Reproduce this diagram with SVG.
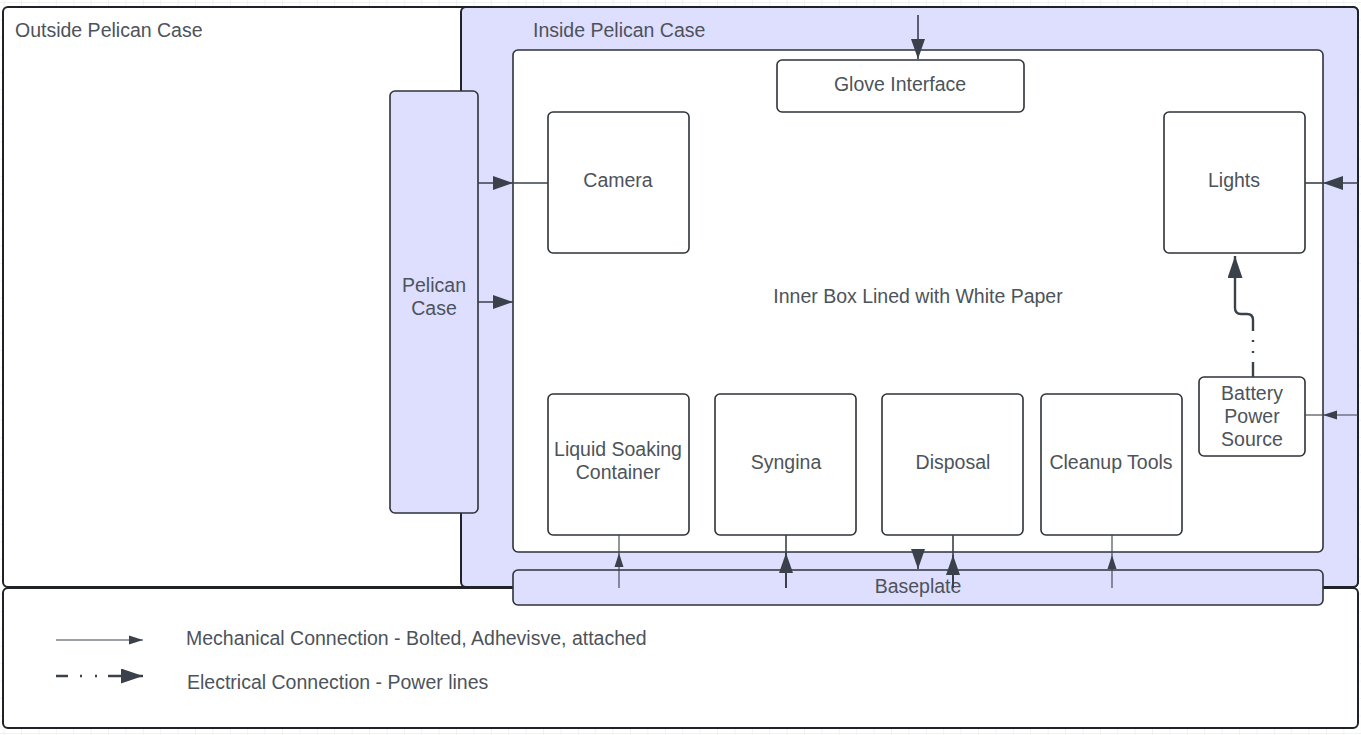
<svg xmlns="http://www.w3.org/2000/svg" width="1361" height="735" viewBox="0 0 1361 735">
<style>
text{font-family:"Liberation Sans",Arial,sans-serif;font-size:19.5px;fill:#4d535a}
.c{text-anchor:middle}
.outer{fill:#ffffff;stroke:#1f2328;stroke-width:2}
.box{fill:#ffffff;stroke:#2e3338;stroke-width:1.6}
.node{fill:#ffffff;stroke:#2e3338;stroke-width:1.6}
.lnode{fill:#dedeff;stroke:#2e3338;stroke-width:1.6}
.con{stroke:#3a414a;stroke-width:1.6;fill:none}
.thin{stroke:#3a414a;stroke-width:1.1;fill:none}
.thick{stroke:#3a414a;stroke-width:2.4;fill:none}
</style>
<defs>
<pattern id="grid" x="4.6" y="3" width="17.4" height="17.4" patternUnits="userSpaceOnUse">
<path d="M17.4 0V17.4M0 17.4H17.4" fill="none" stroke="#e6e6e6" stroke-width="1"/>
</pattern>
<marker id="hL" markerUnits="userSpaceOnUse" markerWidth="20" markerHeight="14" refX="20" refY="7" orient="auto">
<path d="M0 0L20 7L0 14z" fill="#3a414a"/>
</marker>
<marker id="hS" markerUnits="userSpaceOnUse" markerWidth="14" markerHeight="10" refX="14" refY="5" orient="auto">
<path d="M0 0.5L14 5L0 9.5z" fill="#3a414a"/>
</marker>
<marker id="hX" markerUnits="userSpaceOnUse" markerWidth="22" markerHeight="15" refX="22" refY="7.5" orient="auto">
<path d="M0 0L22 7.5L0 15z" fill="#3a414a"/>
</marker>
</defs>
<rect width="1361" height="735" fill="#ffffff"/>
<rect width="1361" height="735" fill="url(#grid)"/>

<g id="outside-case">
<rect class="outer" x="3" y="7" width="1355" height="580" rx="5"/>
<text x="15" y="37">Outside Pelican Case</text>
</g>
<g id="inside-case">
<rect class="outer" x="461" y="7" width="897" height="580" rx="5" style="fill:#dedeff"/>
<text x="533" y="37">Inside Pelican Case</text>
</g>
<g id="legend">
<rect class="outer" x="3" y="588" width="1355" height="140" rx="5"/>
<text x="186" y="645">Mechanical Connection - Bolted, Adhevisve, attached</text>
<text x="187" y="689">Electrical Connection - Power lines</text>
</g>
<g id="inner-box">
<rect class="box" x="513" y="50" width="810" height="502" rx="5"/>
<text class="c" x="918" y="303">Inner Box Lined with White Paper</text>
</g>
<g id="baseplate">
<rect class="lnode" x="513" y="570" width="810" height="35" rx="5"/>
<text class="c" x="918" y="593">Baseplate</text>
</g>
<g id="pelican-case">
<rect class="lnode" x="390" y="91" width="88" height="422" rx="5"/>
<text class="c" x="434" y="292">Pelican</text>
<text class="c" x="434" y="315">Case</text>
</g>
<g id="glove-interface">
<rect class="node" x="777" y="60" width="247" height="52" rx="5"/>
<text class="c" x="900" y="91">Glove Interface</text>
</g>
<g id="camera">
<rect class="node" x="548" y="112" width="141" height="141" rx="5"/>
<text class="c" x="618" y="187">Camera</text>
</g>
<g id="lights">
<rect class="node" x="1164" y="112" width="141" height="141" rx="5"/>
<text class="c" x="1234" y="187">Lights</text>
</g>
<g id="liquid-soaking-container">
<rect class="node" x="548" y="394" width="141" height="141" rx="5"/>
<text class="c" x="618" y="456">Liquid Soaking</text>
<text class="c" x="618" y="479">Container</text>
</g>
<g id="syngina">
<rect class="node" x="715" y="394" width="141" height="141" rx="5"/>
<text class="c" x="786" y="469">Syngina</text>
</g>
<g id="disposal">
<rect class="node" x="882" y="394" width="141" height="141" rx="5"/>
<text class="c" x="953" y="469">Disposal</text>
</g>
<g id="cleanup-tools">
<rect class="node" x="1041" y="394" width="141" height="141" rx="5"/>
<text class="c" x="1111" y="469">Cleanup Tools</text>
</g>
<g id="battery-power-source">
<rect class="node" x="1199" y="377" width="106" height="79" rx="5"/>
<text class="c" x="1252" y="400">Battery</text>
<text class="c" x="1252" y="423">Power</text>
<text class="c" x="1252" y="446">Source</text>
</g>

<g id="connectors">
<line class="con" x1="918" y1="15" x2="918" y2="59" marker-end="url(#hL)"/>
<line class="con" x1="478" y1="183" x2="513" y2="183" marker-end="url(#hL)"/>
<line class="con" x1="513" y1="183" x2="548" y2="183"/>
<line class="con" x1="478" y1="302" x2="513" y2="302" marker-end="url(#hL)"/>
<line class="con" x1="1358" y1="183" x2="1323" y2="183" marker-end="url(#hL)"/>
<line class="con" x1="1323" y1="183" x2="1305" y2="183"/>
<line class="thin" x1="1358" y1="415" x2="1323" y2="415" marker-end="url(#hS)"/>
<line class="thin" x1="1323" y1="415" x2="1305" y2="415"/>
<path class="thick" d="M1253 377V362"/>
<path class="thick" d="M1253 353V351M1253 342V340"/>
<path class="thick" d="M1253 331V320Q1253 314 1247 314H1241Q1235 314 1235 308V256" marker-end="url(#hX)"/>
<line class="thin" x1="619" y1="588" x2="619" y2="553" marker-end="url(#hS)"/>
<line class="thin" x1="619" y1="553" x2="619" y2="535"/>
<line class="con" x1="786" y1="588" x2="786" y2="553" marker-end="url(#hL)" style="stroke-width:2"/>
<line class="con" x1="786" y1="553" x2="786" y2="535"/>
<line class="con" x1="918" y1="552" x2="918" y2="569" marker-end="url(#hL)"/>
<line class="con" x1="953" y1="588" x2="953" y2="555" marker-end="url(#hL)" style="stroke-width:2"/>
<line class="con" x1="953" y1="555" x2="953" y2="535"/>
<line class="thin" x1="1112" y1="588" x2="1112" y2="555" marker-end="url(#hS)"/>
<line class="thin" x1="1112" y1="555" x2="1112" y2="535"/>
<line class="thin" x1="56" y1="640" x2="143" y2="640" marker-end="url(#hS)"/>
<path class="thick" d="M56 676H68M80 676H82M95 676H97M108 676H143" marker-end="url(#hX)"/>
</g>
</svg>
